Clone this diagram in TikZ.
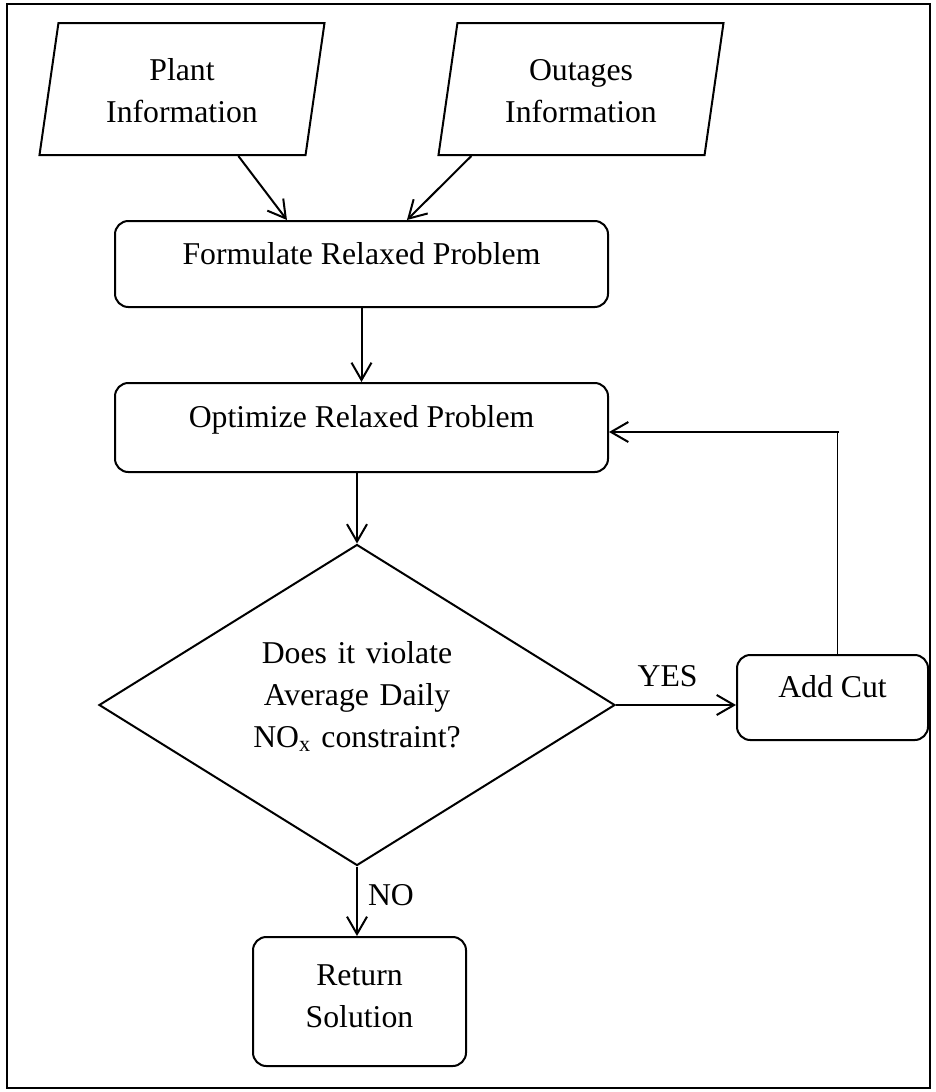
\documentclass[tikz,border=0pt]{standalone}
\usepackage{fontspec}
\setmainfont{Liberation Serif}
\usepackage{amsmath}
\usepackage{tikz}
\usetikzlibrary{shapes.geometric,arrows.meta}

\tikzset{
	flowtext/.style={font=\fontsize{23.8pt}{31.5pt}\selectfont, align=center},
	iobox/.style={flowtext, draw, line width=1.5pt, trapezium, trapezium left angle=75.8, trapezium right angle=104.2, trapezium stretches body=true, minimum width=213.75pt, minimum height=99pt, text width=130pt, text height=18pt, text depth=31.5pt},
	procbox/.style={flowtext, draw, line width=1.5pt, rounded corners=10pt, text height=18pt, text depth=18pt},
	decbox/.style={flowtext, draw, line width=1.5pt, diamond, aspect=1.6, minimum width=387pt, minimum height=240.75pt, text width=170pt, text height=18pt, text depth=81pt},
	flowlabel/.style={flowtext, inner sep=0pt},
	flowarrow/.style={line width=1.5pt, -{Straight Barb[length=13pt,width=15pt]}},
}

\begin{document}
\begin{tikzpicture}[x=0.75pt,y=0.75pt,yscale=-1,xscale=1]
	\useasboundingbox (0,0) rectangle (935,1092);
	
	%Shape: Frame
	\draw [line width=1.5pt] (7,4) rectangle (930,1088);
	
	%Shape: Parallelogram (inputs)
	\node [iobox] (plant) at (182,89) {Plant\\Information};
	\node [iobox] (outages) at (581,89) {Outages\\Information};
	%Shape: Rounded Rectangle
	\node [procbox, minimum width=369.75pt, minimum height=64.5pt] (formulate) at (361.5,264) {Formulate Relaxed Problem};
	\node [procbox, minimum width=369.75pt, minimum height=66.75pt] (optimize) at (361.5,427.5) {Optimize Relaxed Problem};
	%Shape: Diamond
	\node [decbox] (check) at (357,705) {Does it violate\\Average Daily\\NO\textsubscript{x} constraint?};
	%Shape: Rounded Rectangle
	\node [procbox, minimum width=143.25pt, minimum height=63.75pt] (addcut) at (832.5,697.5) {Add Cut};
	\node [procbox, minimum width=159.75pt, minimum height=96.75pt, text width=100pt, text depth=42.75pt] (result) at (359.5,1001.5) {Return\\Solution};
	
	%Straight Lines
	\draw [flowarrow] ([xshift=150pt]plant.bottom left corner) -- ([xshift=-55.9pt]formulate.north);
	\draw [flowarrow] ([xshift=25.5pt]outages.bottom left corner) -- ([xshift=34.1pt]formulate.north);
	\draw [flowarrow] (formulate.south) -- (optimize.north);
	\draw [flowarrow] (optimize.south -| check.north) -- (check.north);
	\draw [flowarrow] (check.east) -- (check.east -| addcut.west) node [flowlabel, pos=0.43, above=12.75pt] (yes) {YES};
	\draw [flowarrow] (check.south) -- (check.south |- result.north) node [flowlabel, pos=0.415, right=7.5pt] (no) {NO};
	
	%Feedback loop
	\coordinate (turn) at (837,432);
	\draw [line width=0.75pt] (turn) -- (turn |- addcut.north);
	\draw [flowarrow] ([xshift=1.5pt]turn) -- (turn -| optimize.east);
\end{tikzpicture}
\end{document}
